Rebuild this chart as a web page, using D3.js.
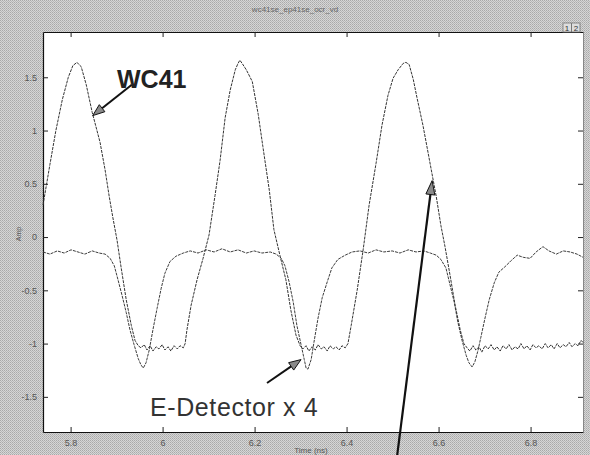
<!DOCTYPE html>
<html>
<head>
<meta charset="utf-8">
<script src="https://cdn.jsdelivr.net/npm/d3@7"></script>
<style>
  body { margin: 0; background: #c6c6c6; }
  svg { display: block; }
</style>
</head>
<body>
<script>
const width = 590, height = 455
const margin = {top: 32, right: 7, bottom: 23, left: 43}

// tick values
const xTicks = [5.8, 6.0, 6.2, 6.4, 6.6, 6.8]
const yTicks = [-1.5, -1, -0.5, 0, 0.5, 1, 1.5]

// WC41 trace (ns, amplitude)
const wcTime = [5.740, 5.755, 5.768, 5.782, 5.795, 5.805, 5.814, 5.818, 5.823, 5.834, 5.847, 5.864, 5.875, 5.884, 5.892, 5.901, 5.910, 5.921, 5.932, 5.940, 5.947,
  5.953, 5.960, 5.966, 5.973, 5.979, 5.986, 5.992, 5.999, 6.005, 6.012, 6.018, 6.025, 6.032, 6.038, 6.045, 6.049,
  6.053, 6.062, 6.075, 6.088, 6.101, 6.114, 6.125, 6.136, 6.147, 6.158, 6.164, 6.168, 6.173, 6.182, 6.195, 6.208, 6.218, 6.232, 6.242, 6.255, 6.268, 6.279, 6.290, 6.299,
  6.305, 6.312, 6.318, 6.325, 6.332, 6.338, 6.345, 6.351, 6.358, 6.364, 6.371, 6.377, 6.384, 6.390, 6.397, 6.403,
  6.410, 6.423, 6.436, 6.449, 6.464, 6.477, 6.490, 6.501, 6.512, 6.523, 6.529, 6.536, 6.545, 6.553, 6.566, 6.579, 6.595, 6.605, 6.614, 6.625, 6.636, 6.647, 6.655, 6.662,
  6.668, 6.675, 6.681, 6.688, 6.694, 6.701, 6.708, 6.714, 6.721, 6.727, 6.734, 6.740, 6.747, 6.753, 6.760, 6.766, 6.773, 6.779, 6.786, 6.792, 6.799,
  6.805, 6.812, 6.818, 6.825, 6.832, 6.838, 6.845, 6.851, 6.858, 6.864, 6.871, 6.877, 6.884, 6.890, 6.897, 6.903, 6.910, 6.914]
const wcAmp = [0.30, 0.68, 1.00, 1.29, 1.50, 1.61, 1.64, 1.62, 1.60, 1.43, 1.17, 0.89, 0.63, 0.38, 0.18, -0.03, -0.29, -0.59, -0.83, -0.97, -1.02,
  -1.04, -1.01, -1.06, -1.02, -1.07, -1.03, -1.05, -1.01, -1.06, -1.03, -1.07, -1.02, -1.05, -1.02, -1.04, -1.00,
  -0.87, -0.64, -0.40, -0.20, 0.02, 0.39, 0.72, 1.12, 1.38, 1.57, 1.63, 1.66, 1.63, 1.57, 1.46, 1.15, 0.85, 0.44, 0.07, -0.17, -0.40, -0.69, -0.92, -1.02,
  -1.05, -1.02, -1.07, -1.03, -1.06, -1.01, -1.05, -1.03, -1.07, -1.02, -1.05, -1.03, -1.06, -1.02, -1.04, -1.00,
  -0.83, -0.50, -0.12, 0.30, 0.69, 1.05, 1.33, 1.49, 1.57, 1.63, 1.64, 1.62, 1.48, 1.31, 1.05, 0.75, 0.38, 0.11, -0.09, -0.36, -0.64, -0.87, -1.00, -1.04,
  -1.07, -1.02, -1.06, -1.03, -1.08, -1.02, -1.05, -1.01, -1.06, -1.03, -1.07, -1.02, -1.05, -1.01, -1.06, -1.03, -1.05, -1.00, -1.05, -1.02, -1.06,
  -1.01, -1.04, -1.02, -1.05, -1.00, -1.04, -1.01, -1.05, -1.00, -1.04, -1.01, -1.03, -0.99, -1.03, -1.00, -1.02, -0.97, -0.99]

// E-Detector x 4 trace (ns, amplitude)
const edTime = [5.740, 5.755, 5.771, 5.786, 5.801, 5.816, 5.831, 5.847, 5.862, 5.875, 5.886, 5.895, 5.903, 5.912, 5.921, 5.929, 5.938, 5.947, 5.953, 5.958,
  5.964, 5.971, 5.979, 5.988, 5.997, 6.005, 6.016, 6.029, 6.045, 6.060, 6.077, 6.095, 6.112, 6.129, 6.147, 6.164, 6.182, 6.199, 6.216, 6.234,
  6.247, 6.258, 6.266, 6.275, 6.284, 6.292, 6.301, 6.308, 6.312, 6.316, 6.323, 6.329, 6.338, 6.347, 6.358, 6.368, 6.381, 6.397,
  6.412, 6.429, 6.447, 6.464, 6.481, 6.499, 6.516, 6.534, 6.551, 6.568, 6.582, 6.595, 6.605, 6.616, 6.625, 6.634, 6.642, 6.651, 6.660, 6.666, 6.673,
  6.679, 6.686, 6.692, 6.701, 6.710, 6.721, 6.731, 6.744, 6.758, 6.771, 6.784, 6.799, 6.812, 6.827, 6.840, 6.856, 6.871, 6.886, 6.901, 6.914]
const edAmp = [-0.14, -0.16, -0.13, -0.15, -0.12, -0.14, -0.16, -0.13, -0.15, -0.16, -0.20, -0.27, -0.40, -0.55, -0.71, -0.87, -1.01, -1.14, -1.20, -1.23,
  -1.18, -1.06, -0.87, -0.67, -0.48, -0.34, -0.23, -0.18, -0.15, -0.13, -0.15, -0.12, -0.14, -0.11, -0.14, -0.12, -0.15, -0.13, -0.15, -0.14,
  -0.16, -0.20, -0.27, -0.42, -0.61, -0.83, -1.01, -1.15, -1.23, -1.24, -1.15, -0.99, -0.76, -0.57, -0.42, -0.29, -0.21, -0.17,
  -0.14, -0.13, -0.15, -0.12, -0.14, -0.13, -0.15, -0.12, -0.14, -0.13, -0.15, -0.17, -0.21, -0.29, -0.45, -0.61, -0.80, -0.97, -1.11, -1.18, -1.22,
  -1.17, -1.06, -0.94, -0.76, -0.59, -0.43, -0.33, -0.28, -0.22, -0.17, -0.19, -0.20, -0.14, -0.09, -0.13, -0.16, -0.13, -0.14, -0.16, -0.19]

// annotation arrows: [t0, v0, t1, v1] (tail -> tip)
const wcArrow = [5.933, 1.43, 5.848, 1.14]
const edArrow = [6.227, -1.37, 6.301, -1.15]
const bigArrow = [6.510, -2.05, 6.586, 0.53]

const svg = d3.select("body").append("svg")
    .attr("width", width)
    .attr("height", height)

// scanned halftone look for the grey surround
const pat = svg.append("defs").append("pattern")
    .attr("id", "dither")
    .attr("width", 2).attr("height", 2)
    .attr("patternUnits", "userSpaceOnUse")
pat.append("rect").attr("width", 2).attr("height", 2).attr("fill", "#d6d6d6")
pat.append("rect").attr("width", 1).attr("height", 1).attr("fill", "#a9a9a9")
pat.append("rect").attr("x", 1).attr("y", 1).attr("width", 1).attr("height", 1).attr("fill", "#b8b8b8")

svg.append("rect").attr("width", width).attr("height", height).attr("fill", "url(#dither)")

const w = width - margin.left - margin.right
const h = height - margin.top - margin.bottom

const x = d3.scaleLinear().domain([5.740, 6.914]).range([margin.left, margin.left + w])
const y = d3.scaleLinear().domain([-1.83, 1.925]).range([margin.top + h, margin.top])

svg.append("rect")
    .attr("x", margin.left).attr("y", margin.top)
    .attr("width", w).attr("height", h)
    .attr("fill", "#fff")

const fmt = d => String(+d.toFixed(1))

// axes, matlab style (ticks inward on all four sides)
const axisStyle = g => {
    g.selectAll("path").attr("stroke", "#111").attr("stroke-width", 1.2)
    g.selectAll("line").attr("stroke", "#222")
    g.selectAll("text").attr("fill", "#555").attr("font-family", "Liberation Sans, Arial, sans-serif").attr("font-size", 9)
}
svg.append("g").attr("transform", `translate(0,${margin.top + h})`)
    .call(d3.axisBottom(x).tickValues(xTicks).tickFormat(fmt).tickSizeInner(-5).tickSizeOuter(0).tickPadding(8))
    .call(axisStyle)
svg.append("g").attr("transform", `translate(0,${margin.top})`)
    .call(d3.axisTop(x).tickValues(xTicks).tickFormat("").tickSizeInner(-5).tickSizeOuter(0))
    .call(axisStyle)
svg.append("g").attr("transform", `translate(${margin.left},0)`)
    .call(d3.axisLeft(y).tickValues(yTicks).tickFormat(fmt).tickSizeInner(-5).tickSizeOuter(0).tickPadding(6))
    .call(axisStyle)
svg.append("g").attr("transform", `translate(${margin.left + w},0)`)
    .call(d3.axisRight(y).tickValues(yTicks).tickFormat("").tickSizeInner(-5).tickSizeOuter(0))
    .call(axisStyle)
    .select("path").attr("stroke", "#777").attr("stroke-width", 0.8)

// traces
const line = d3.line().x(d => x(d[0])).y(d => y(d[1]))
const plot = svg.append("g")
plot.append("path")
    .datum(d3.zip(edTime, edAmp))
    .attr("d", line)
    .attr("fill", "none").attr("stroke", "#3c3c3c").attr("stroke-width", 1)
    .attr("stroke-dasharray", "3 1")
plot.append("path")
    .datum(d3.zip(wcTime, wcAmp))
    .attr("d", line)
    .attr("fill", "none").attr("stroke", "#333").attr("stroke-width", 1)
    .attr("stroke-dasharray", "3 1")

// arrows
function arrow([t0, v0, t1, v1], lw, len, half) {
    const x0 = x(t0), y0 = y(v0), x1 = x(t1), y1 = y(v1)
    const a = Math.atan2(y1 - y0, x1 - x0)
    const bx = x1 - len * Math.cos(a), by = y1 - len * Math.sin(a)
    svg.append("line")
        .attr("x1", x0).attr("y1", y0).attr("x2", bx).attr("y2", by)
        .attr("stroke", "#111").attr("stroke-width", lw)
    const px = -Math.sin(a) * half, py = Math.cos(a) * half
    svg.append("path")
        .attr("d", `M${x1},${y1}L${bx + px},${by + py}L${bx - px},${by - py}Z`)
        .attr("fill", "#8a8a8a").attr("stroke", "#111").attr("stroke-width", 1)
}
arrow(wcArrow, 2, 12, 4.5)
arrow(edArrow, 2, 12, 4.5)
arrow(bigArrow, 2.2, 14, 4.5)

// labels
svg.append("text").attr("x", 117).attr("y", 88)
    .attr("font-family", "Liberation Sans, Arial, sans-serif").attr("font-weight", "bold")
    .attr("font-size", 25).attr("fill", "#222").text("WC41")
svg.append("text").attr("x", 150).attr("y", 416)
    .attr("font-family", "Liberation Sans, Arial, sans-serif")
    .attr("font-size", 25).attr("letter-spacing", 0.6).attr("fill", "#333").text("E-Detector x 4")

svg.append("text").attr("x", 311).attr("y", 453).attr("text-anchor", "middle")
    .attr("font-family", "Liberation Sans, Arial, sans-serif").attr("font-size", 8).attr("fill", "#555")
    .text("Time (ns)")
svg.append("text").attr("transform", "translate(21,234) rotate(-90)").attr("text-anchor", "middle")
    .attr("font-family", "Liberation Sans, Arial, sans-serif").attr("font-size", 7).attr("fill", "#555")
    .text("Amp")

// window title strip
svg.append("text").attr("x", 295).attr("y", 12).attr("text-anchor", "middle")
    .attr("font-family", "Liberation Sans, Arial, sans-serif").attr("font-size", 8).attr("fill", "#666")
    .text("wc41se_ep41se_ocr_vd")
svg.append("rect").attr("x", 563).attr("y", 23).attr("width", 17).attr("height", 9)
    .attr("fill", "#ddd").attr("stroke", "#777").attr("stroke-width", 0.8)
svg.append("line").attr("x1", 571.5).attr("x2", 571.5).attr("y1", 23).attr("y2", 32).attr("stroke", "#777")
svg.append("text").attr("x", 567).attr("y", 31).attr("text-anchor", "middle")
    .attr("font-family", "Liberation Sans, Arial, sans-serif").attr("font-size", 8).attr("fill", "#333").text("1")
svg.append("text").attr("x", 576).attr("y", 31).attr("text-anchor", "middle")
    .attr("font-family", "Liberation Sans, Arial, sans-serif").attr("font-size", 8).attr("fill", "#333").text("2")
</script>
</body>
</html>
